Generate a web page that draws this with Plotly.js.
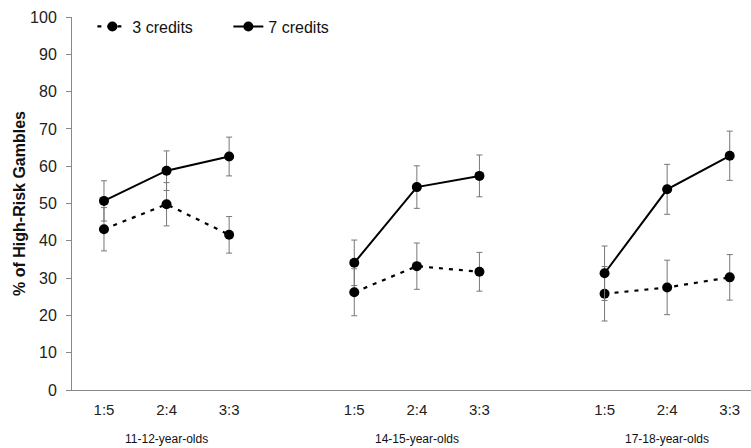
<!DOCTYPE html>
<html>
<head>
<meta charset="utf-8">
<script src="https://cdn.plot.ly/plotly-3.0.1.min.js"></script>
<style>html,body{margin:0;padding:0;background:#fff;}#chart{width:751px;height:448px;}</style>
</head>
<body>
<div id="chart"></div>
<script>
// Data
const groups = ["11-12-year-olds", "14-15-year-olds", "17-18-year-olds"];
const ratios = ["1:5", "2:4", "3:3"];
const credits3 = [43.1, 49.8, 41.6, 26.2, 33.2, 31.7, 25.8, 27.5, 30.2];
const credits3Err = [5.8, 5.8, 4.9, 6.3, 6.2, 5.2, 7.3, 7.3, 6.1];
const credits7 = [50.7, 58.8, 62.6, 34.1, 54.4, 57.4, 31.3, 53.8, 62.8];
const credits7Err = [5.4, 5.3, 5.2, 6.1, 5.7, 5.6, 7.3, 6.7, 6.6];

// Build x positions: each group takes ratios.length slots, plus one empty slot as a gap
function build(vals, errs) {
  const x = [], y = [], e = [];
  groups.forEach((g, gi) => {
    ratios.forEach((r, ri) => {
      const k = gi * ratios.length + ri;
      x.push(gi * (ratios.length + 1) + ri);
      y.push(vals[k]);
      e.push(errs[k]);
    });
    if (gi < groups.length - 1) {
      x.push(gi * (ratios.length + 1) + ratios.length);
      y.push(null);
      e.push(null);
    }
  });
  return {x, y, e};
}
const s3 = build(credits3, credits3Err);
const s7 = build(credits7, credits7Err);

const tickvals = [], ticktext = [];
groups.forEach((g, gi) => ratios.forEach((r, ri) => {
  tickvals.push(gi * (ratios.length + 1) + ri);
  ticktext.push(r);
}));

const errStyle = {type: "data", visible: true, color: "#777", thickness: 1, width: 3};

const traces = [
  {
    x: s3.x, y: s3.y, name: "3 credits", type: "scatter", mode: "lines+markers",
    connectgaps: false,
    line: {color: "#000", width: 2.2, dash: "4px,6px"},
    marker: {color: "#000", size: 10},
    error_y: Object.assign({array: s3.e}, errStyle)
  },
  {
    x: s7.x, y: s7.y, name: "7 credits", type: "scatter", mode: "lines+markers",
    connectgaps: false,
    line: {color: "#000", width: 2},
    marker: {color: "#000", size: 10},
    error_y: Object.assign({array: s7.e}, errStyle)
  }
];

const annotations = groups.map((g, gi) => ({
  text: g, x: gi * (ratios.length + 1) + 1, xref: "x",
  y: 0, yref: "paper", yshift: -49, yanchor: "middle",
  showarrow: false, font: {family: "Liberation Sans, Arial, sans-serif", size: 12, color: "#111"}
}));

const layout = {
  width: 751, height: 448,
  margin: {l: 72, r: 0, t: 17, b: 58},
  paper_bgcolor: "#fff", plot_bgcolor: "#fff",
  font: {family: "Liberation Sans, Arial, sans-serif", color: "#222"},
  showlegend: true,
  legend: {
    orientation: "h", x: 0.03, xanchor: "left", y: 1.02, yanchor: "top",
    font: {size: 16, color: "#111"}, bgcolor: "rgba(0,0,0,0)",
    itemwidth: 30, entrywidth: 91, entrywidthmode: "pixels", tracegroupgap: 0
  },
  xaxis: {
    range: [-0.511, 10.34],
    tickmode: "array", tickvals: tickvals, ticktext: ticktext,
    showgrid: false, zeroline: false,
    showline: true, linecolor: "#888", linewidth: 1,
    ticks: "", ticklen: 0, ticklabelstandoff: 6,
    tickfont: {size: 15, color: "#222"},
    fixedrange: true
  },
  yaxis: {
    range: [0, 100], dtick: 10, tick0: 0,
    showgrid: false, zeroline: false,
    showline: true, linecolor: "#888", linewidth: 1,
    ticks: "outside", ticklen: 5, tickcolor: "#888", ticklabelstandoff: 6,
    tickfont: {size: 16, color: "#222"},
    title: {text: "<b>% of High-Risk Gambles</b>", font: {size: 16, color: "#111"}, standoff: 0},
    fixedrange: true
  },
  annotations: annotations
};

Plotly.newPlot("chart", traces, layout, {displayModeBar: false, staticPlot: true});
</script>
</body>
</html>
